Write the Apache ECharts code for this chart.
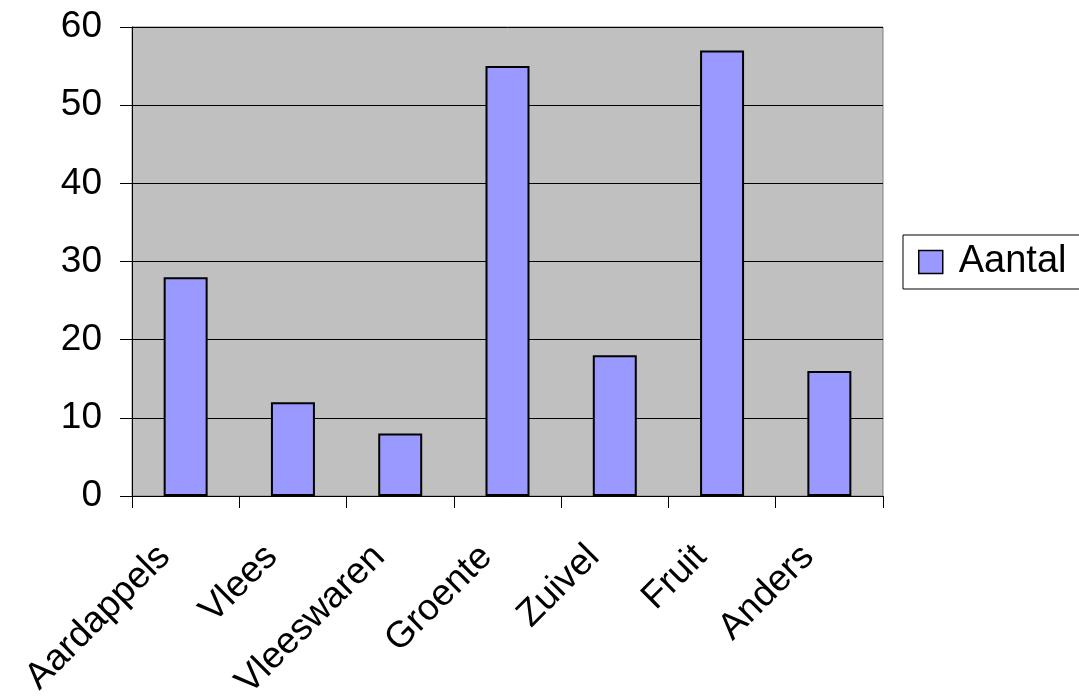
<!DOCTYPE html>
<html><head><meta charset="utf-8">
<script src="https://cdn.jsdelivr.net/npm/echarts@6/dist/echarts.min.js"></script>
<style>html,body{margin:0;padding:0;background:#fff}#c{width:1079px;height:699px}</style>
</head><body><div id="c"></div>
<script>
const categories = ["Aardappels", "Vlees", "Vleeswaren", "Groente", "Zuivel", "Fruit", "Anders"];
const aantal = [28, 12, 8, 55, 18, 57, 16];
const seriesName = "Aantal";

const chart = echarts.init(document.getElementById('c'));
const font = '"Liberation Sans", Arial, sans-serif';
chart.setOption({
  animation: false,
  backgroundColor: '#ffffff',
  grid: {left: 132, top: 27, right: 196, bottom: 203, outerBoundsMode: 'none', containLabel: false, show: true, backgroundColor: '#c0c0c0', borderColor: '#808080', borderWidth: 1},
  legend: {
    data: [seriesName], left: 903, top: 235, orient: 'vertical',
    padding: [8, 40, 8, 15], borderColor: '#000', borderWidth: 1, backgroundColor: '#fff',
    itemWidth: 24, itemHeight: 23, icon: 'rect',
    itemStyle: {borderColor: '#000', borderWidth: 1.5},
    textStyle: {fontFamily: font, fontSize: 38, color: '#000', padding: [0, 0, 0, 11]}
  },
  xAxis: {
    type: 'category', data: categories,
    axisLine: {lineStyle: {color: '#000', width: 1}},
    axisTick: {show: true, length: 12, alignWithLabel: false, lineStyle: {color: '#000'}},
    axisLabel: {rotate: 45, interval: 0, margin: 34, fontFamily: font, fontSize: 37, color: '#000', padding: [0, 30, 0, 0]}
  },
  yAxis: {
    type: 'value', min: 0, max: 60, interval: 10,
    axisLine: {show: true, lineStyle: {color: '#000', width: 1}},
    axisTick: {show: true, length: 12, lineStyle: {color: '#000'}},
    splitLine: {show: true, lineStyle: {color: '#000', width: 1}},
    axisLabel: {margin: 30, fontFamily: font, fontSize: 37, color: '#000'}
  },
  series: [{
    name: seriesName, type: 'bar', data: aantal, barCategoryGap: '59%',
    itemStyle: {color: '#9999ff', borderColor: '#000', borderWidth: 2}
  }]
});
</script></body></html>
